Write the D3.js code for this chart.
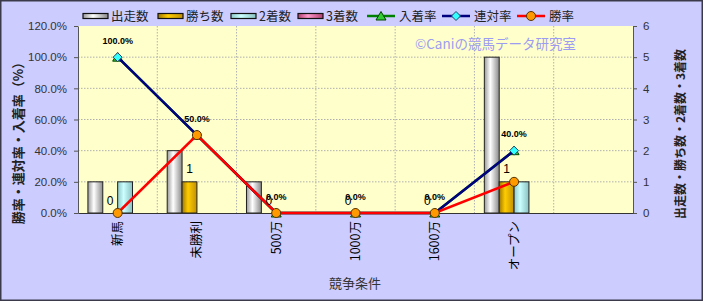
<!DOCTYPE html>
<html><head><meta charset="utf-8">
<script src="https://cdn.jsdelivr.net/npm/d3@7"></script>
<style>body{margin:0;background:#fff}svg{display:block}</style>
</head><body>
<svg id="c" width="703" height="301"></svg>
<script>
const categories = ["新馬","未勝利","500万","1000万","1600万","オープン",""];
const starts  = [1,2,1,0,0,5];
const wins    = [0,1,0,0,0,1];
const seconds = [1,0,0,0,0,1];
const thirds  = [0,0,0,0,0,0];
const placeRate  = [1,0.5,0,0,0,0.4];   // 入着率
const rentaiRate = [1,0.5,0,0,0,0.4];   // 連対率
const winRate    = [0,0.5,0,0,0,0.2];   // 勝率
const leftTicks  = [0,0.2,0.4,0.6,0.8,1.0,1.2];
const rightTicks = [0,1,2,3,4,5,6];
const barSeries = ["出走数","勝ち数","2着数","3着数"];
const lineSeries = ["入着率","連対率","勝率"];

const svg = d3.select("#c");
const W = 703, H = 301;
const L = 78, R = 633, T = 26, B = 213;
const JP = "'Noto Sans CJK JP','Noto Sans',sans-serif";
const NUM = "'Liberation Sans',Arial,sans-serif";

svg.append("rect").attr("x",0.75).attr("y",0.75).attr("width",W-1.5).attr("height",H-1.5)
  .attr("fill","#CCCCFF").attr("stroke","#3a3a4a").attr("stroke-width",1.5);

const defs = svg.append("defs");
function grad(id, edge, mid, edge2){
  const g = defs.append("linearGradient").attr("id",id).attr("x1",0).attr("x2",1).attr("y1",0).attr("y2",0);
  g.append("stop").attr("offset","0%").attr("stop-color",edge);
  g.append("stop").attr("offset","40%").attr("stop-color",mid);
  g.append("stop").attr("offset","100%").attr("stop-color",edge2);
}
grad("g0","#9a9a9a","#ffffff","#8a8a8a");
grad("g1","#a07800","#ffcc00","#c09000");
grad("g2","#8fc8c8","#ccffff","#88c0c0");
grad("g3","#b04070","#ff99cc","#b04070");
const fills = ["url(#g0)","url(#g1)","url(#g2)","url(#g3)"];

const x = d3.scaleBand().domain(categories).range([L,R]).padding(0);
const yL = d3.scaleLinear().domain([0,1.2]).range([B,T]);
const yR = d3.scaleLinear().domain([0,6]).range([B,T]);
const bw = x.bandwidth();
const xs = d3.scaleBand().domain(barSeries).range([-bw*0.375, bw*0.375]).padding(0);
const cx = i => x(categories[i]) + bw/2;

// plot area
svg.append("rect").attr("x",L).attr("y",T).attr("width",R-L).attr("height",B-T).attr("fill","#FFFFCC");

// gridlines
svg.append("g").selectAll("line").data(leftTicks.filter(t=>t>0 && t<1.2)).join("line")
  .attr("x1",L).attr("x2",R).attr("y1",d=>yL(d)).attr("y2",d=>yL(d))
  .attr("stroke","#b0b0b0").attr("stroke-dasharray","1.5,1.5").attr("stroke-width",1);
svg.append("g").selectAll("line").data(categories.slice(1)).join("line")
  .attr("x1",d=>x(d)).attr("x2",d=>x(d)).attr("y1",T).attr("y2",B)
  .attr("stroke","#b0b0b0").attr("stroke-dasharray","1.5,1.5").attr("stroke-width",1);

// copyright
svg.append("text").attr("x",415).attr("y",49).attr("font-family",JP).attr("font-size",13.5)
  .attr("fill","#9c9cf0").text("©Caniの競馬データ研究室");

// bars
const barData = [starts, wins, seconds, thirds];
barData.forEach((arr, s) => {
  svg.append("g").selectAll("rect").data(arr.map((v,i)=>({v,i}))).join("rect")
    .attr("x", d => cx(d.i) + xs(barSeries[s]))
    .attr("width", xs.bandwidth())
    .attr("y", d => yR(d.v))
    .attr("height", d => B - yR(d.v))
    .attr("fill", fills[s]).attr("stroke","#222").attr("stroke-width",1)
    .attr("display", d => d.v > 0 ? null : "none");
});

// axes
const ax = svg.append("g").attr("transform",`translate(${L},0)`)
  .call(d3.axisLeft(yL).tickValues(leftTicks).tickFormat(d3.format(".1%")).tickSize(4).tickSizeOuter(0).tickPadding(7));
const ar = svg.append("g").attr("transform",`translate(${R},0)`)
  .call(d3.axisRight(yR).tickValues(rightTicks).tickFormat(d3.format("d")).tickSize(4).tickSizeOuter(0).tickPadding(6));
[ax, ar].forEach(a => {
  a.select(".domain").attr("stroke","#555");
  a.selectAll(".tick line").attr("stroke","#555");
  a.selectAll("text").attr("font-family",NUM).attr("font-size",11.5).attr("fill","#333");
});
const xb = svg.append("g").attr("transform",`translate(0,${B})`)
  .call(d3.axisBottom(x).tickSize(0).tickSizeOuter(0));
xb.select(".domain").attr("stroke","#333");
xb.selectAll("text").attr("transform","rotate(-90)").attr("text-anchor","end")
  .attr("x",-8).attr("y",0).attr("dy","0.36em")
  .attr("font-family",JP).attr("font-size",12.5).attr("fill","#000");

// lines
const line = d3.line().x((d,i)=>cx(i)).y(d=>yL(d));
const lineData = [placeRate, rentaiRate, winRate];
const lineColors = ["#008000","#000080","#ff0000"];
function marker(g, s, px, py){
  if (s===0) g.append("path").attr("d",`M${px},${py-4.5}L${px+5},${py+4}L${px-5},${py+4}Z`)
      .attr("fill","#33cc33").attr("stroke","#004400").attr("stroke-width",1);
  else if (s===1) g.append("path").attr("d",`M${px},${py-4.5}L${px+4.5},${py}L${px},${py+4.5}L${px-4.5},${py}Z`)
      .attr("fill","#33ffff").attr("stroke","#224466").attr("stroke-width",1);
  else g.append("circle").attr("cx",px).attr("cy",py).attr("r",4.5)
      .attr("fill","#ff9900").attr("stroke","#553300").attr("stroke-width",1);
}
lineData.forEach((arr,s) => {
  const g = svg.append("g");
  g.append("path").attr("d",line(arr)).attr("fill","none").attr("stroke",lineColors[s]).attr("stroke-width",2.5);
  arr.forEach((v,i)=>marker(g,s,cx(i),yL(v)));
});

// data labels
svg.append("g").selectAll("text").data(wins.map((v,i)=>({v,i}))).join("text")
  .attr("x", d => cx(d.i) + xs("勝ち数") + xs.bandwidth()/2)
  .attr("y", d => yR(d.v) - 8.5)
  .attr("text-anchor","middle").attr("font-family",NUM).attr("font-size",12).attr("fill","#000")
  .text(d => d.v);
svg.append("g").selectAll("text").data(rentaiRate.map((v,i)=>({v,i}))).join("text")
  .attr("x", d => cx(d.i)).attr("y", d => yL(d.v) - 13.5)
  .attr("text-anchor","middle").attr("font-family",NUM).attr("font-size",9).attr("font-weight","bold").attr("fill","#000")
  .text(d => d3.format(".1%")(d.v));

// axis titles
svg.append("text").attr("transform","translate(23,140) rotate(-90)").attr("text-anchor","middle")
  .attr("font-family",JP).attr("font-size",13).attr("font-weight","bold").attr("fill","#222")
  .text("勝率・連対率・入着率（%）");
svg.append("text").attr("transform","translate(685,134) rotate(-90)").attr("text-anchor","middle")
  .attr("font-family",JP).attr("font-size",12).attr("font-weight","bold").attr("fill","#222")
  .text("出走数・勝ち数・2着数・3着数");
svg.append("text").attr("x",355).attr("y",288).attr("text-anchor","middle")
  .attr("font-family",JP).attr("font-size",13).attr("fill","#333").text("競争条件");

// legend
const lg = svg.append("g").attr("font-family",JP).attr("font-size",12.5).attr("fill","#222");
const barLegX = [83,158,231,298];
barSeries.forEach((name,s)=>{
  lg.append("rect").attr("x",barLegX[s]).attr("y",13.5).attr("width",25).attr("height",5)
    .attr("fill",fills[s]).attr("stroke","#111").attr("stroke-width",1.2);
  lg.append("text").attr("x",barLegX[s]+28).attr("y",21).text(name);
});
const lineLegX = [367,442,517];
lineSeries.forEach((name,s)=>{
  lg.append("line").attr("x1",lineLegX[s]).attr("x2",lineLegX[s]+28).attr("y1",16).attr("y2",16)
    .attr("stroke",lineColors[s]).attr("stroke-width",2.5);
  marker(lg, s, lineLegX[s]+14, 16);
  lg.append("text").attr("x",lineLegX[s]+32).attr("y",21).text(name);
});
</script>
</body></html>
